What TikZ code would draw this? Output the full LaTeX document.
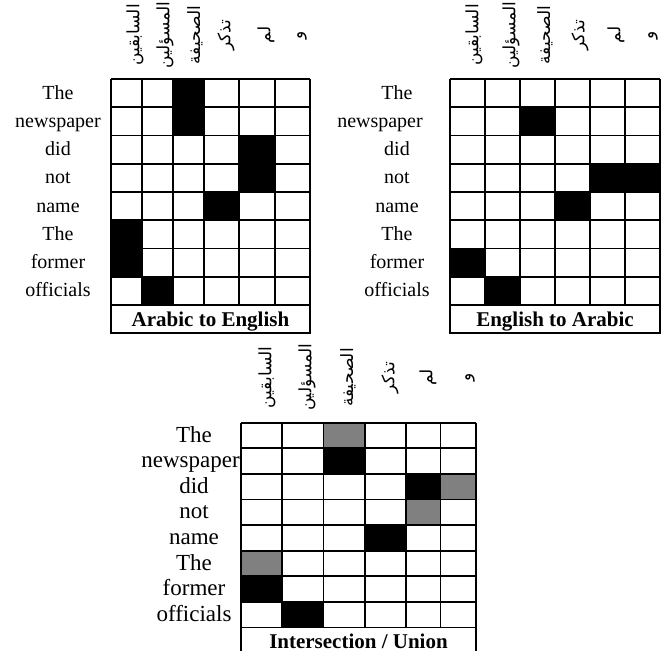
\documentclass[tikz,border=0pt]{standalone}
\usepackage{fontspec}
\setmainfont{Liberation Serif}
\newfontfamily\arabicfont[Script=Arabic]{DejaVu Sans}
\TeXXeTstate=1
\usetikzlibrary{positioning}
\definecolor{union-gray}{HTML}{808080}

\tikzset{
  gridline/.style={line width=0.85pt},
  hit/.style={fill=black},
  unionhit/.style={fill=union-gray},
  wordlabel/.style={anchor=base,inner sep=0pt,font=\fontsize{10}{12}\selectfont},
  arabichead/.style={rotate=90,inner sep=0pt,font=\arabicfont\fontsize{8.5}{10}\selectfont},
  captiontext/.style={anchor=base,inner sep=0pt,font=\bfseries\fontsize{10.5}{12}\selectfont}
}

\begin{document}
\begin{tikzpicture}[x=0.5pt,y=-0.5pt]
  \useasboundingbox (0,0) rectangle (667,650);

  % Arabic to English
  \def\colsA{{111,141.7,172.7,204.3,239.3,275,310}}
  \def\topA{79}
  \def\rhA{28.25}
  \foreach \r/\c in {1/3,2/3,3/5,4/5,5/4,6/1,7/1,8/2}{
    \pgfmathsetmacro\xl{\colsA[\c-1]}
    \pgfmathsetmacro\xr{\colsA[\c]}
    \fill[hit] (\xl,\topA+\rhA*\r-\rhA) rectangle (\xr,\topA+\rhA*\r);
  }
  \foreach \i in {0,...,6}{
    \pgfmathsetmacro\xx{\colsA[\i]}
    \draw[gridline] (\xx,\topA) -- (\xx,\topA+8*\rhA);
  }
  \foreach \j in {0,...,8}
    \draw[gridline] (111,\topA+\j*\rhA) -- (310,\topA+\j*\rhA);
  \draw[gridline] (111,305) rectangle (310,333.3);
  \node[captiontext] (capA) at (210.5,326) {Arabic to English};
  \foreach \w [count=\r] in {The,newspaper,did,not,name,The,former,officials}
    \node[wordlabel] (enA-\r) at (58,\topA+\rhA*\r-\rhA/2+6) {\w};
  \foreach \w/\x [count=\i] in {السابقين/135,المسؤلين/165,الصحيفة/195,تذكر/226,لم/266,و/302}
    \node[arabichead] (arA-\i) at (\x,35) {\beginR\w\endR};

  % English to Arabic
  \def\colsB{{450,485,520,555,590,625,660}}
  \foreach \r/\c in {2/3,4/5,4/6,5/4,7/1,8/2}{
    \pgfmathsetmacro\xl{\colsB[\c-1]}
    \pgfmathsetmacro\xr{\colsB[\c]}
    \fill[hit] (\xl,\topA+\rhA*\r-\rhA) rectangle (\xr,\topA+\rhA*\r);
  }
  \foreach \i in {0,...,6}{
    \pgfmathsetmacro\xx{\colsB[\i]}
    \draw[gridline] (\xx,\topA) -- (\xx,\topA+8*\rhA);
  }
  \foreach \j in {0,...,8}
    \draw[gridline] (450,\topA+\j*\rhA) -- (660,\topA+\j*\rhA);
  \draw[gridline] (450,305) rectangle (660,333.3);
  \node[captiontext] (capB) at (555,326) {English to Arabic};
  \foreach \w/\x [count=\r] in {The/397,newspaper/380,did/397,not/397,name/397,The/397,former/397,officials/397}
    \node[wordlabel] (enB-\r) at (\x,\topA+\rhA*\r-\rhA/2+6) {\w};
  \foreach \w/\x [count=\i] in {السابقين/474,المسؤلين/511,الصحيفة/545,تذكر/580,لم/616,و/653}
    \node[arabichead] (arB-\i) at (\x,35) {\beginR\w\endR};

  % Intersection / Union
  \def\colsC{{241,282,323.5,365,406,440.5,476}}
  \def\topC{422.7}
  \def\rhC{25.6}
  \foreach \r/\c in {2/3,3/5,5/4,7/1,8/2}{
    \pgfmathsetmacro\xl{\colsC[\c-1]}
    \pgfmathsetmacro\xr{\colsC[\c]}
    \fill[hit] (\xl,\topC+\rhC*\r-\rhC) rectangle (\xr,\topC+\rhC*\r);
  }
  \foreach \r/\c in {1/3,3/6,4/5,6/1}{
    \pgfmathsetmacro\xl{\colsC[\c-1]}
    \pgfmathsetmacro\xr{\colsC[\c]}
    \fill[unionhit] (\xl,\topC+\rhC*\r-\rhC) rectangle (\xr,\topC+\rhC*\r);
  }
  \foreach \i in {0,...,6}{
    \pgfmathsetmacro\xx{\colsC[\i]}
    \draw[gridline] (\xx,\topC) -- (\xx,\topC+8*\rhC);
  }
  \foreach \j in {0,...,8}
    \draw[gridline] (241,\topC+\j*\rhC) -- (476,\topC+\j*\rhC);
  \draw[gridline] (241,627.5) rectangle (476,653);
  \node[captiontext] (capC) at (358.5,648.3) {Intersection / Union};
  \foreach \w/\x [count=\r] in {The/194,newspaper/190.5,did/194,not/194,name/194,The/194,former/194,officials/194}
    \node[wordlabel,font=\fontsize{11.5}{13}\selectfont] (enC-\r) at (\x,\topC+\rhC*\r-\rhC/2+6.5) {\w};
  \foreach \w/\x [count=\i] in {السابقين/267,المسؤلين/307,الصحيفة/348,تذكر/390,لم/428,و/470}
    \node[arabichead] (arC-\i) at (\x,377.5) {\beginR\w\endR};
\end{tikzpicture}
\end{document}
